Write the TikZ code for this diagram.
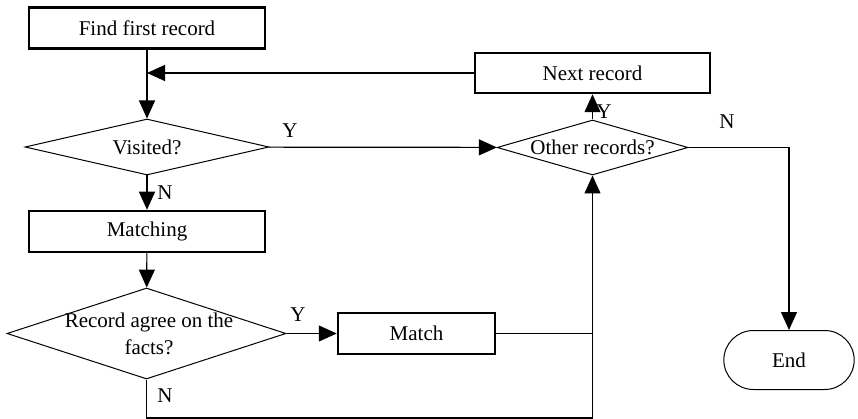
\documentclass[tikz,border=0pt]{standalone}
\usepackage{fontspec}
\setmainfont{Liberation Serif}
\usetikzlibrary{shapes.geometric,shapes.misc,arrows.meta}
\definecolor{Ink}{HTML}{000000}

\begin{document}
\begin{tikzpicture}[x=1pt,y=-1pt,every node/.style={font=\fontsize{21}{27}\selectfont,text=Ink},
  procbox/.style={draw=Ink,line width=2.5pt,minimum width=236pt,minimum height=41pt,inner sep=0pt},
  decbox/.style={draw=Ink,diamond,line width=1pt,inner sep=0pt},
  endbox/.style={draw=Ink,rounded rectangle,line width=1pt,minimum width=137pt,minimum height=59pt},
  flow/.style={draw=Ink,line width=1.2pt,-{Triangle[length=18pt,width=16pt]}},
  link/.style={draw=Ink,line width=1.2pt}]
\useasboundingbox (0,0) rectangle (858,419);
% boxes and decisions
\node[procbox] (find) at (147,28) {Find first record};
\node[decbox,minimum width=244pt,minimum height=56pt] (vis) at (147,147) {};
\node (vistext) at (147,147) {Visited?};
\node[procbox] (matching) at (147,231.5) {Matching};
\node[decbox,minimum width=279pt,minimum height=91pt] (rec) at (146.5,333.5) {};
\node[align=center] (rectext) at (149,334) {Record agree on the\\facts?};
\node[procbox,minimum width=157pt] (match) at (416.5,333.5) {Match};
\node[procbox,minimum width=235pt,minimum height=40pt] (next) at (592.5,73) {Next record};
\node[decbox,minimum width=191pt,minimum height=55pt] (oth) at (592.5,147.5) {};
\node (othtext) at (592.5,147.5) {Other records?};
\node[endbox] (endn) at (789,360) {End};
% labels
\node (yvis) at (290,131) {Y};\node (nvis) at (165,193) {N};
\node (yrec) at (298,315) {Y};\node (nrec) at (165,396) {N};
\node (yoth) at (604,112) {Y};\node (noth) at (727,122) {N};
% connectors
\coordinate (back) at (147,73);\coordinate (meet) at (592.5,418);
\draw[flow] (find) -- (vis);
\draw[flow] (next) -- (back);
\draw[flow] (vis) -- (oth);
\draw[flow] (vis) -- (matching);
\draw[flow] (matching) -- (rec);
\draw[flow] (rec) -- (match);
\draw[link] (match.east) -- (match.east -| meet);
\draw[flow] (rec.south) |- (meet) -- (oth.south);
\draw[flow] (oth) -- (next);
\draw[flow] (oth.east) -| (endn.north);
\end{tikzpicture}
\end{document}
